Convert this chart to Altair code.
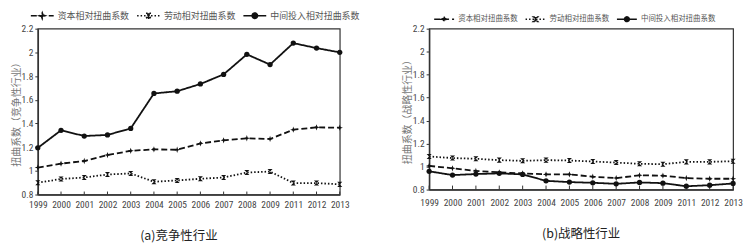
import altair as alt
import pandas as pd

years = ["1999", "2000", "2001", "2002", "2003", "2004", "2005", "2006",
         "2007", "2008", "2009", "2011", "2012", "2013"]
series = ["资本相对扭曲系数", "劳动相对扭曲系数", "中间投入相对扭曲系数"]

# (a) competitive industries
comp_capital = [1.028, 1.061, 1.083, 1.133, 1.169, 1.181, 1.178, 1.231, 1.258, 1.275, 1.269, 1.347, 1.367, 1.364]
comp_labor = [0.900, 0.931, 0.944, 0.969, 0.978, 0.908, 0.919, 0.933, 0.944, 0.986, 0.994, 0.897, 0.897, 0.886]
comp_inter = [1.194, 1.342, 1.294, 1.303, 1.358, 1.653, 1.672, 1.733, 1.814, 1.983, 1.897, 2.078, 2.036, 2.000]

# (b) strategic industries
stra_capital = [1.006, 0.985, 0.962, 0.950, 0.941, 0.932, 0.932, 0.912, 0.900, 0.924, 0.921, 0.900, 0.894, 0.894]
stra_labor = [1.088, 1.074, 1.068, 1.056, 1.050, 1.056, 1.053, 1.044, 1.035, 1.024, 1.021, 1.041, 1.041, 1.047]
stra_inter = [0.959, 0.926, 0.935, 0.941, 0.932, 0.876, 0.865, 0.859, 0.850, 0.862, 0.856, 0.829, 0.838, 0.853]

y_ticks = [0.8, 1.0, 1.2, 1.4, 1.6, 1.8, 2.0, 2.2]

star = "M0,-1L0.25,-0.25L1,0L0.25,0.25L0,1L-0.25,0.25L-1,0L-0.25,-0.25Z"
hourglass = "M-1,-1H1L-1,1H1Z"
marker_paths = [star, hourglass, "circle"]
marker_sizes = [40, 26, 28]

leg_capital = ("M-2.3,0H2.3"
               "M0,-0.6L0.15,-0.15L0.6,0L0.15,0.15L0,0.6L-0.15,0.15L-0.6,0L-0.15,-0.15Z")
leg_labor = ("M-2.3,0H2.3"
             "M-0.5,-0.5H0.5L-0.5,0.5H0.5Z")
leg_inter = ("M-2.3,0H2.3"
             "M-0.55,0A0.55,0.55 0 1,0 0.55,0A0.55,0.55 0 1,0 -0.55,0Z")
legend_paths = [leg_capital, leg_labor, leg_inter]

dashes = [[6, 3], [1.5, 2], [1, 0]]
ink = ["#111111", "#111111", "#111111"]

SANS = "Liberation Sans Narrow, Roboto Condensed, Liberation Sans, sans-serif"
CJK = "Noto Sans CJK SC"


def make_df(cap, lab, inter):
    rows = []
    for name, vals in zip(series, [cap, lab, inter]):
        for yr, v in zip(years, vals):
            rows.append({"year": yr, "value": v, "series": name})
    return pd.DataFrame(rows)


def panel(df, ytitle, caption, w, h, tick_size, label_pad, leg_x, leg_y,
          leg_size, leg_font, leg_label_offset, cap_dx):
    x = alt.X("year:O", sort=years, title=None,
              scale=alt.Scale(type="point", padding=0),
              axis=alt.Axis(labelAngle=0, labelFont=SANS, labelFontSize=9.5,
                            labelColor="#444", domainColor="#333", domainWidth=1.5,
                            ticks=False, labelPadding=label_pad))
    y = alt.Y("value:Q", title=ytitle,
              scale=alt.Scale(domain=[0.8, 2.2], nice=False, zero=False),
              axis=alt.Axis(values=y_ticks, format="~g", labelFont=SANS, labelFontSize=9.5,
                            labelColor="#444", domainColor="#333", domainWidth=1.5,
                            tickColor="#333", tickSize=3, labelPadding=2, grid=False,
                            titleFont=CJK, titleFontSize=10, titleColor="#777",
                            titleFontWeight="normal", titlePadding=0))
    base = alt.Chart(df)
    layers = []
    layers.append(base.transform_filter(alt.datum.series == series[0]).mark_rule(
        color="#333", strokeWidth=1
    ).encode(x=x, y=alt.value(h), y2=alt.value(h - tick_size)))
    for name, dash, shp, sz in zip(series, dashes, marker_paths, marker_sizes):
        sub = base.transform_filter(alt.datum.series == name)
        layers.append(sub.mark_line(color="#111", strokeWidth=1.8, strokeDash=dash)
                      .encode(x=x, y=y))
        layers.append(sub.mark_point(filled=True, color="#111", size=sz, opacity=1, shape=shp)
                      .encode(x=x, y=y))
    leg = alt.Legend(orient="none", legendX=leg_x, legendY=leg_y,
                     direction="horizontal", title=None, gridAlign="none",
                     labelFont=CJK, labelFontSize=leg_font, labelColor="#555",
                     symbolSize=leg_size, symbolStrokeWidth=1.5,
                     symbolFillColor="#111",
                     symbolOpacity=1, labelOffset=leg_label_offset, columnPadding=4,
                     padding=0)
    layers.append(base.transform_filter("false").mark_point(
        filled=False, fill="#111", strokeWidth=1.5, size=leg_size, opacity=1
    ).encode(
        x=x, y=y,
        color=alt.Color("series:N", scale=alt.Scale(domain=series, range=ink), legend=leg),
        shape=alt.Shape("series:N", scale=alt.Scale(domain=series, range=legend_paths),
                        legend=leg),
        strokeDash=alt.StrokeDash("series:N", scale=alt.Scale(domain=series, range=dashes),
                                  legend=leg),
    ))
    return alt.layer(*layers).properties(
        width=w, height=h,
        title=alt.TitleParams(caption, orient="bottom", font=CJK, fontSize=12.5,
                              fontWeight="normal", color="#222", offset=21, anchor="middle",
                              dx=cap_dx),
    )


left = panel(make_df(comp_capital, comp_labor, comp_inter), "扭曲系数（竞争性行业）",
             "(a)竞争性行业", 304, 167, 3, 5, -1.5, -19, 100, 9, 9.5, -10)
right = panel(make_df(stra_capital, stra_labor, stra_inter), "扭曲系数（战略性行业）",
              "(b)战略性行业", 306, 162, 4, 8, 9.6, -15, 76, 7.5, 8.7, 0)

chart = alt.hconcat(left, right, spacing=40).resolve_scale(
    x="independent", y="independent", shape="independent", strokeDash="independent",
    color="independent"
).resolve_legend(shape="independent", strokeDash="independent", color="independent"
).configure_view(
    stroke="#333", strokeWidth=1.2
).configure_legend(symbolStrokeColor="#111", symbolStrokeWidth=1.5
).properties(padding={"left": 2, "top": 0, "right": 0, "bottom": 0}, background="white")

chart.save("out.html", embed_options={"renderer": "svg", "actions": False})
